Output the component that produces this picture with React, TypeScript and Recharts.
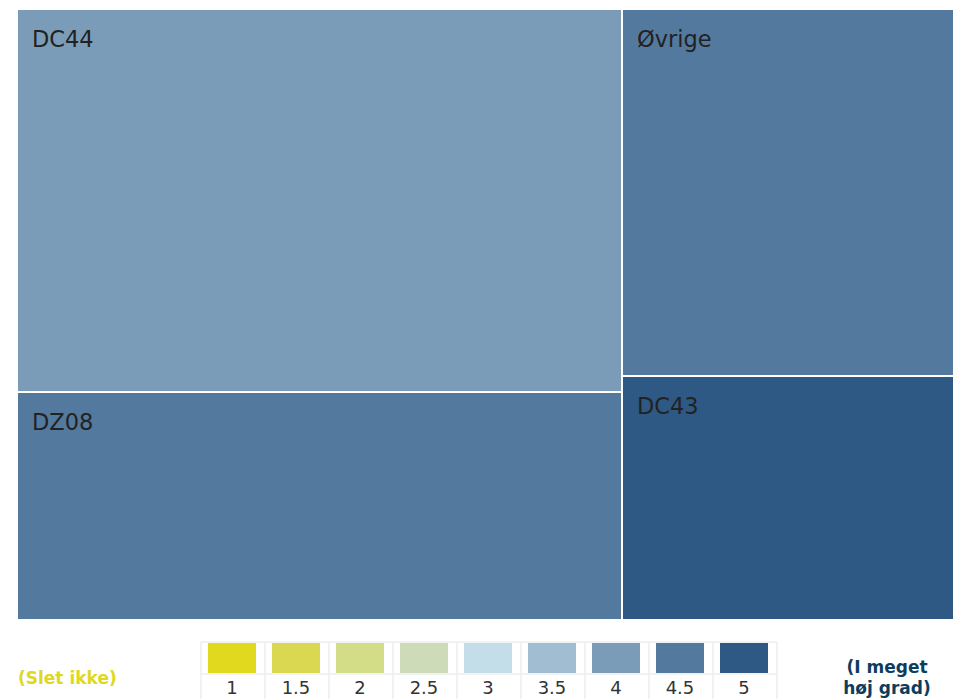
import React from "react";
import { Treemap } from "recharts";

// treemap categories, their sizes (share of total) and score on the 1-5 scale
const categories = ["DC44", "DZ08", "Øvrige", "DC43"];
const sizes = [40.5, 24.1, 21.3, 14.1];
const scores = [4, 4.5, 4.5, 5];

// colour scale legend
const scaleLevels = [1, 1.5, 2, 2.5, 3, 3.5, 4, 4.5, 5];
const scaleLabels = ["1", "1.5", "2", "2.5", "3", "3.5", "4", "4.5", "5"];
const scaleColors = [
  "#e1d91e",
  "#d9d850",
  "#d3dc87",
  "#cddbb8",
  "#c3dde9",
  "#a0bdd2",
  "#7b9cb8",
  "#54799f",
  "#2e5985",
];

const colorFor = (score: number) => {
  const i = scaleLevels.indexOf(score);
  return i >= 0 ? scaleColors[i] : "#ccc";
};

const data = categories.map((name, i) => ({
  name,
  size: sizes[i],
  score: scores[i],
}));

const FONT = "'DejaVu Sans', Verdana, sans-serif";

const Cell = (props: any) => {
  const { x, y, width, height, depth, name, index } = props;
  if (depth !== 1) return <g />;
  const score = props.score ?? scores[index];
  return (
    <g>
      <rect
        x={x}
        y={y}
        width={width}
        height={height}
        fill={colorFor(score)}
        stroke="#fff"
        strokeWidth={2}
      />
      <text
        x={x + 15}
        y={y + 38}
        fill="#222"
        stroke="none"
        fontSize={22.5}
        fontFamily={FONT}
      >
        {name}
      </text>
    </g>
  );
};

const CELL_W = 64;
const LEG_X = 201;
const LEG_Y = 642;

const ScaleLegend = () => (
  <svg
    width={953}
    height={60}
    style={{ position: "absolute", left: 0, top: 640 }}
  >
    <g transform="translate(0,-640)">
      <line
        x1={LEG_X}
        x2={LEG_X + CELL_W * scaleLevels.length}
        y1={LEG_Y}
        y2={LEG_Y}
        stroke="#eee"
        strokeWidth={1.5}
      />
      <line
        x1={LEG_X}
        x2={LEG_X + CELL_W * scaleLevels.length}
        y1={LEG_Y + 32}
        y2={LEG_Y + 32}
        stroke="#eee"
        strokeWidth={1.5}
      />
      {scaleLevels.map((_, i) => (
        <line
          key={"v" + i}
          x1={LEG_X + i * CELL_W}
          x2={LEG_X + i * CELL_W}
          y1={LEG_Y}
          y2={699}
          stroke="#eee"
          strokeWidth={1.5}
        />
      ))}
      <line
        x1={LEG_X + scaleLevels.length * CELL_W}
        x2={LEG_X + scaleLevels.length * CELL_W}
        y1={LEG_Y}
        y2={699}
        stroke="#eee"
        strokeWidth={1.5}
      />
      {scaleColors.map((c, i) => (
        <rect
          key={"r" + i}
          x={LEG_X + i * CELL_W + 7}
          y={LEG_Y + 1}
          width={48}
          height={30}
          fill={c}
        />
      ))}
      {scaleLabels.map((t, i) => (
        <text
          key={"t" + i}
          x={LEG_X + i * CELL_W + 31}
          y={694}
          textAnchor="middle"
          fontSize={18}
          fontFamily={FONT}
          fill="#333"
        >
          {t}
        </text>
      ))}
      <text
        x={18}
        y={684}
        fontSize={17}
        fontWeight="bold"
        fontFamily={FONT}
        fill="#e0d820"
      >
        (Slet ikke)
      </text>
      <text
        x={887}
        y={673}
        textAnchor="middle"
        fontSize={17}
        fontWeight="bold"
        fontFamily={FONT}
        fill="#0d3d5e"
      >
        <tspan x={887}>(I meget</tspan>
        <tspan x={887} dy={21}>
          høj grad)
        </tspan>
      </text>
    </g>
  </svg>
);

export default function App() {
  return (
    <div
      style={{
        position: "absolute",
        left: 0,
        top: 0,
        width: 953,
        height: 699,
        overflow: "hidden",
        background: "#fff",
      }}
    >
      <div style={{ position: "absolute", left: 17, top: 9 }}>
        <Treemap
          width={937}
          height={611}
          data={data}
          dataKey="size"
          nameKey="name"
          stroke="#fff"
          isAnimationActive={false}
          content={<Cell />}
        />
      </div>
      <ScaleLegend />
    </div>
  );
}
